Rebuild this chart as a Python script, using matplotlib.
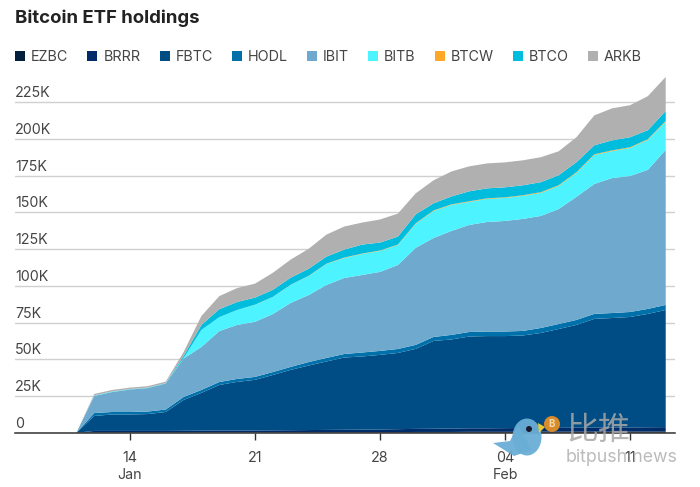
import numpy as np
from matplotlib import pyplot as plt
from matplotlib.patches import Ellipse, Polygon
from matplotlib.transforms import ScaledTranslation

plt.rcParams['font.family'] = ['Inter', 'Noto Sans CJK SC', 'DejaVu Sans']

# days counted from 1 Jan 2024 (32 = 1 Feb)
days = list(range(11, 45))

# holdings in thousands of BTC
EZBC = [0,.1,.1,.1,.1,.1,.1,.2,.2,.2,.2,.2,.3,.3,.3,.3,.4,.4,.4,.5,.5,.5,.6,.6,.6,.6,.7,.7,.7,.8,.8,.8,.8,.9]
BRRR = [0,1.1,1.1,1.1,1.1,1.1,1.2,1.2,1.3,1.3,1.3,1.4,1.4,1.5,1.6,1.7,1.7,1.8,2.0,2.1,2.2,2.3,2.4,2.4,2.5,2.6,2.5,2.6,2.7,2.7,2.8,2.8,2.9,2.9]
FBTC = [0,10.2,11.2,11.2,11.5,12.9,21.0,25.7,31.0,33.1,34.5,37.7,41.1,43.9,46.6,49.2,49.8,50.8,51.9,54.5,59.8,60.7,62.5,62.8,62.7,63.0,64.7,67.3,70.0,74.0,74.5,75.2,77.2,79.8]
HODL = [0,2.0,1.7,1.7,1.7,1.7,2.0,2.0,2.0,2.0,2.0,2.0,2.0,2.4,2.4,2.4,2.7,2.7,2.7,2.7,2.7,3.1,3.1,3.1,3.1,3.1,3.4,3.4,3.4,3.4,3.4,3.4,3.4,3.4]
IBIT = [0,11.6,13.6,15.3,16.0,17.7,26.2,29.3,34.7,36.8,37.5,39.5,43.6,45.6,49.7,51.8,52.8,53.8,57.2,66.1,67.4,70.8,72.9,74.6,75.3,76.3,76.3,78.3,83.8,88.5,91.9,92.6,94.7,105.6]
BITB = [0,.3,.3,.2,.2,.2,.3,11.6,9.5,10.2,11.6,11.6,12.3,12.9,14.3,13.6,14.3,14.3,13.6,16.3,18.4,17.7,15.7,15.7,15.7,15.7,15.7,15.7,16.3,19.7,18.4,19.1,20.4,19.1]
BTCW = [0,0,0,0,0,0,0,0,0,0,.1,.1,.1,.2,.2,.3,.3,.3,.3,.4,.4,.4,.4,.4,.4,.4,.5,.5,.5,.5,.5,.5,.5,.6]
BTCO = [0,.1,.1,.1,.1,.1,1.4,3.4,5.4,5.4,4.8,4.8,4.8,4.8,4.8,5.4,6.1,5.4,5.4,6.1,4.8,5.4,6.8,6.8,6.8,6.8,6.8,6.8,6.8,6.1,6.8,6.8,6.1,6.8]
ARKB = [0,1.0,1.0,1.0,1.0,1.0,2.7,6.1,8.9,9.5,9.5,11.6,12.3,13.6,15.0,15.7,15.0,15.7,15.7,14.3,15.7,17.0,17.0,17.0,17.0,17.0,17.0,16.3,17.0,20.4,21.8,21.8,23.2,23.2]

names = ['EZBC','BRRR','FBTC','HODL','IBIT','BITB','BTCW','BTCO','ARKB']
colors = ['#04203d','#002d69','#004c84','#0070ab','#6fa9cd','#4df3ff','#ffa726','#00bcdd','#b0b0b0']

y_ticks = [0,25,50,75,100,125,150,175,200,225]
y_labels = ['0','25K','50K','75K','100K','125K','150K','175K','200K','225K']
x_ticks = [14,21,28,35,42]
x_labels = ['14\nJan','21','28','04\nFeb','11']

W, H = 700, 487
fig = plt.figure(figsize=(W/100, H/100), dpi=100)

# axes in pixels: left 15, right 675, baseline 432.7, 250K at 65.6
ax = fig.add_axes([15/W, (H-432.7)/H, 660/W, (432.7-65.6)/H])
ax.stackplot(days, EZBC, BRRR, FBTC, HODL, IBIT, BITB, BTCW, BTCO, ARKB,
             labels=names, colors=colors, linewidth=0, zorder=2)

ax.set_xlim(7.56, 44.52)
ax.set_ylim(0, 250)

for side in ['top','left','right']:
    ax.spines[side].set_visible(False)
ax.spines['bottom'].set_color('#333333')
ax.spines['bottom'].set_linewidth(1.1)
ax.spines['bottom'].set_zorder(5)

ax.set_yticks(y_ticks)
ax.set_yticklabels(y_labels)
ax.grid(axis='y', color='#d0d0d0', linewidth=1, zorder=1)
ax.set_axisbelow(True)
ax.tick_params(axis='y', length=0, pad=0, labelsize=10.3, labelcolor='#444444')
shift = ScaledTranslation(0, 2/100, fig.dpi_scale_trans)
for label in ax.get_yticklabels():
    label.set_ha('left')
    label.set_va('bottom')
    label.set_transform(label.get_transform() + shift)

ax.set_xticks(x_ticks)
ax.set_xticklabels(x_labels, linespacing=1.25)
ax.tick_params(axis='x', length=5, width=1, color='#333333', pad=8, labelsize=10.3, labelcolor='#444444')

fig.text(15/W, 1-18/H, 'Bitcoin ETF holdings', fontsize=13.4, fontweight='bold',
         color='#222222', ha='left', va='center')

ax.legend(loc='center left', bbox_to_anchor=(15/W, 1-57/H), bbox_transform=fig.transFigure,
          ncol=9, frameon=False, fontsize=10.3, handlelength=.7, handleheight=.7,
          handletextpad=.42, columnspacing=1.33, borderpad=0, borderaxespad=0,
          labelcolor='#444444')


# watermark, positions in pixels
def px(x, y):
    return (x/W, 1-y/H)

to_fig = fig.transFigure
fig.add_artist(Polygon([px(493,443), px(510,441), px(518,425), px(532,450), px(514,456)],
                       transform=to_fig, color='#6aaed6', alpha=.95, lw=0))
fig.add_artist(Ellipse(px(527,437), 29/W, 37/H, transform=to_fig, color='#6aaed6', alpha=.95, lw=0))
fig.add_artist(Ellipse(px(529,429), 6/W, 6/H, transform=to_fig, color='#1a1a2a', lw=0))
fig.add_artist(Polygon([px(538,423), px(545,427), px(539,433)], transform=to_fig, color='#e6c832', lw=0))
fig.add_artist(Ellipse(px(552,424), 16/W, 16/H, transform=to_fig, color='#d98a2b', lw=0))
fig.text(552/W, 1-424/H, 'B', fontsize=7, fontweight='bold', color='#f3d9a8', ha='center', va='center')
fig.text(598/W, 1-430/H, '比推', fontsize=23, color='#a8a8a8', alpha=.85, style='italic', ha='center', va='center')
fig.text(622/W, 1-458/H, 'bitpush.news', fontsize=12.8, color='#b0b0b0', alpha=.85, ha='center', va='center')

fig.savefig('out.png', dpi=100)
